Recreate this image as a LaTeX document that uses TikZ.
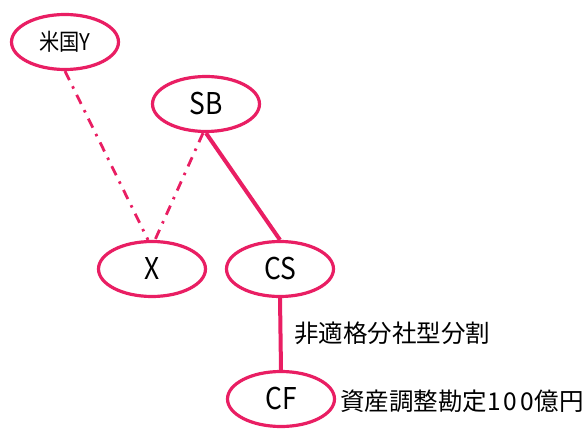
\documentclass[tikz,border=0pt]{standalone}
\usepackage{fontspec}
\newfontfamily\jp{Noto Sans CJK JP}
\newfontfamily\jpn[FakeStretch=0.88]{Noto Sans CJK JP}
\usetikzlibrary{shapes.geometric}
\definecolor{pk}{HTML}{E91E63}
\tikzset{
  ent/.style={ellipse, draw=pk, line width=3.2pt, fill=white, minimum width=107pt, minimum height=55pt, inner sep=0pt, font=\jpn\fontsize{30}{32}\selectfont},
  dashdot/.style={draw=pk, line width=2.8pt, dash pattern=on 10pt off 7pt on 2.5pt off 7pt},
  solidlink/.style={draw=pk, line width=4pt},
  lbl/.style={anchor=west, inner sep=0pt, font=\jp\fontsize{24.5}{27}\selectfont}
}
\begin{document}
\begin{tikzpicture}[x=1pt, y=-1pt]
\useasboundingbox (0,0) rectangle (588,430);
\node[ent, font=\jpn\fontsize{23}{25}\selectfont] (Y) at (65,42) {米国Y};
\node[ent] (SB) at (206,104) {SB};
\node[ent] (X) at (152,269) {X};
\node[ent] (CS) at (280,269) {CS};
\node[ent] (CF) at (281,399) {CF};
\draw[dashdot] (Y.south) -- ([xshift=-4pt]X.north);
\draw[dashdot] ([xshift=-3pt]SB.south) -- ([xshift=3pt]X.north);
\draw[solidlink] (SB.south) -- (CS.north);
\draw[solidlink] (CS.south) -- (CF.north);
\node[lbl] (t1) at (294,333) {非適格分社型分割};
\node[lbl] (t2) at (340,401) {資産調整勘定1\kern3pt0\kern3pt0\kern1pt億円};
\end{tikzpicture}
\end{document}
